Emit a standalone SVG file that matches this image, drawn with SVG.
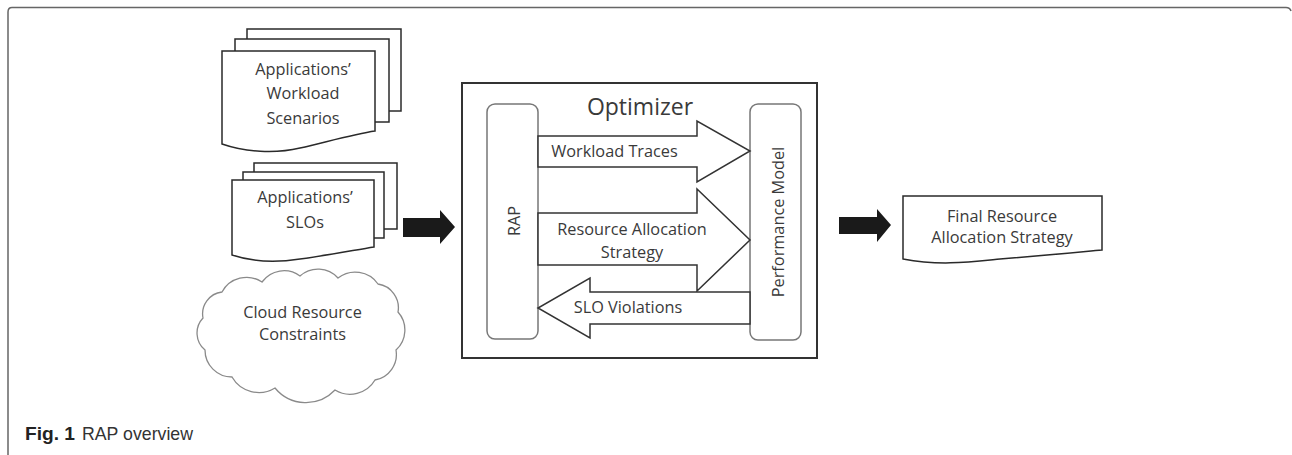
<svg xmlns="http://www.w3.org/2000/svg" width="1292" height="455" viewBox="0 0 1292 455">
<style>
  .t { font-family: "Open Sans", "DejaVu Sans", sans-serif; font-size: 16.3px; fill: #3a3a3a; text-anchor: middle; }
  .doc { fill: #fff; stroke: #2a2a2a; stroke-width: 1.5; }
  .docb { fill: #fff; stroke: #2a2a2a; stroke-width: 1.5; }
  .hollow { fill: #fff; stroke: #333; stroke-width: 1.5; stroke-linejoin: miter; }
  .solid { fill: #1a1a1a; stroke: none; }
  .lane { fill: #fff; stroke: #777; stroke-width: 1.5; }
</style>
<rect x="0" y="0" width="1292" height="455" fill="#fff"/>
<path id="frame" d="M8,455 V12 Q8,7.5 12,7.5 H1286 Q1290,7.5 1291,11" fill="none" stroke="#666" stroke-width="1.5"/>

<g id="workload-scenarios">
  <rect class="docb" x="247" y="29" width="154" height="82"/>
  <rect class="docb" x="235" y="39" width="154" height="83"/>
  <path class="doc" d="M222,51 H375 V131 C355,134 330,141 300,148 C275,154 245,152 222,144 Z"/>
  <text class="t" x="303" y="75">Applications’</text>
  <text class="t" x="303" y="99">Workload</text>
  <text class="t" x="303" y="124">Scenarios</text>
</g>

<g id="slos">
  <rect class="docb" x="254" y="163" width="143" height="66"/>
  <rect class="docb" x="243" y="172" width="141" height="66"/>
  <path class="doc" d="M232,180 H374 V247 C355,250 330,255 300,259 C275,263 250,261 232,255 Z"/>
  <text class="t" x="305" y="203">Applications’</text>
  <text class="t" x="305" y="228">SLOs</text>
</g>

<g id="cloud-constraints">
  <path d="M205,350 A22,22 0 0 1 203,318 A22,22 0 0 1 222,292 A28,28 0 0 1 262,282 A27,27 0 0 1 300,276 A27,27 0 0 1 338,278 A28,28 0 0 1 378,284 A24,24 0 0 1 398,312 A27,27 0 0 1 396,350 A26,26 0 0 1 375,380 A29,29 0 0 1 335,390 A40,40 0 0 1 275,388 A31,31 0 0 1 232,377 A27,27 0 0 1 205,350 Z" fill="#fff" stroke="#8a8a8a" stroke-width="1.3"/>
  <text class="t" x="302.5" y="318">Cloud Resource</text>
  <text class="t" x="302.5" y="340">Constraints</text>
</g>

<g id="optimizer">
  <rect x="462" y="83" width="355" height="275" fill="#fff" stroke="#333" stroke-width="2"/>
  <text class="t" x="640" y="115" style="font-size:23px">Optimizer</text>
</g>

<g id="rap">
  <rect class="lane" x="487" y="104" width="51" height="235" rx="8"/>
  <text class="t" transform="translate(519.5,221) rotate(-90)">RAP</text>
</g>

<g id="performance-model">
  <rect class="lane" x="750" y="104" width="51" height="236" rx="8"/>
  <text class="t" transform="translate(784,222) rotate(-90)">Performance Model</text>
</g>

<g id="final-strategy">
  <path class="doc" d="M903,196 H1102 V250 C1080,252 1050,255 1000,259 C970,262 940,266 903,259 Z" stroke="#444"/>
  <text class="t" x="1002" y="222">Final Resource</text>
  <text class="t" x="1002" y="243">Allocation Strategy</text>
</g>

<g id="connectors">
  <polygon class="solid" points="403,218 440,218 440,210 455,227 440,244 440,237 403,237"/>
  <polygon class="solid" points="839,217 877,217 877,209 891,225 877,242 877,234 839,234"/>
  <polygon class="hollow" points="538,136 697,136 697,121 750,151 697,182 697,167 538,167"/>
  <polygon class="hollow" points="538,213 697,213 697,189 750,240 697,291 697,265 538,265"/>
  <polygon class="hollow" points="750,292 590,292 590,278 538,308 590,338 590,324 750,324"/>
  <text class="t" x="614.5" y="157">Workload Traces</text>
  <text class="t" x="632" y="235">Resource Allocation</text>
  <text class="t" x="632" y="258">Strategy</text>
  <text class="t" x="628" y="313">SLO Violations</text>
</g>

<text x="25" y="440" style="font-family:'Liberation Sans','Open Sans',sans-serif;font-size:18.5px;fill:#222"><tspan font-weight="bold" textLength="50" lengthAdjust="spacingAndGlyphs">Fig. 1</tspan><tspan x="82" fill="#333" textLength="111" lengthAdjust="spacingAndGlyphs">RAP overview</tspan></text>
</svg>
